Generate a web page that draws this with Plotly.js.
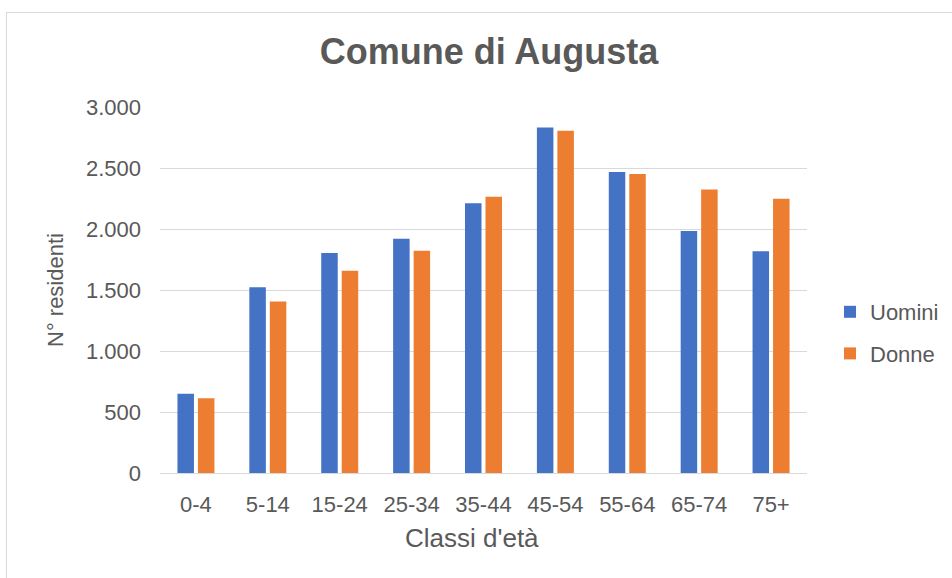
<!DOCTYPE html>
<html>
<head>
<meta charset="utf-8">
<script src="https://cdn.plot.ly/plotly-3.0.1.min.js"></script>
<style>
  html, body { margin: 0; padding: 0; background: #fff; }
  #chart { width: 952px; height: 578px; position: absolute; left: 0; top: 0; }
  #frame { position: absolute; left: 6px; top: 12px; width: 960px; height: 580px;
           border-left: 1px solid #d9d9d9; border-top: 1px solid #d9d9d9; pointer-events: none; }
</style>
</head>
<body>
<div id="chart"></div>
<div id="frame"></div>
<script>
const categories = ["0-4", "5-14", "15-24", "25-34", "35-44", "45-54", "55-64", "65-74", "75+"];
const uomini = [650, 1523, 1803, 1921, 2212, 2832, 2467, 1984, 1817];
const donne  = [612, 1405, 1657, 1822, 2264, 2805, 2451, 2324, 2248];
const yTicks = [0, 500, 1000, 1500, 2000, 2500, 3000];

const textColor = "#595959";
const font = "Liberation Sans, Arial, sans-serif";

const traces = [
  { type: "bar", name: "Uomini", x: categories, y: uomini, marker: { color: "#4472C4" }, legendgroup: "u", hoverinfo: "x+y" },
  { type: "bar", name: "Donne", x: categories, y: donne, marker: { color: "#ED7D31" }, legendgroup: "d", hoverinfo: "x+y" }
];

const layout = {
  width: 952, height: 578,
  margin: { l: 160, r: 145, t: 107, b: 105 },
  paper_bgcolor: "#ffffff", plot_bgcolor: "#ffffff",
  separators: ",.",
  font: { family: font, color: textColor, size: 22 },
  barmode: "group",
  bargap: 0.43,
  bargroupgap: 0.195,
  title: {
    text: "<b>Comune di Augusta</b>",
    font: { family: font, size: 36, color: textColor },
    xref: "container", x: 489 / 952, xanchor: "center",
    yref: "container", y: 1 - 51 / 578, yanchor: "middle"
  },
  xaxis: {
    type: "category",
    showgrid: false,
    showline: true, linecolor: "#d9d9d9", linewidth: 1,
    ticks: "",
    tickfont: { family: font, size: 22, color: textColor },
    ticklabelstandoff: 12
  },
  yaxis: {
    range: [0, 3000],
    tickvals: yTicks,
    tickformat: ",",
    showgrid: true, gridcolor: "#d9d9d9", gridwidth: 1,
    zeroline: false,
    showline: false,
    ticks: "",
    tickfont: { family: font, size: 22, color: textColor },
    ticklabelstandoff: 18,
    title: { text: "N° residenti", font: { family: font, size: 22, color: textColor }, standoff: 16 }
  },
  annotations: [{
    text: "Classi d'età",
    xref: "paper", yref: "paper",
    x: (472 - 160) / 647, y: -(538 - 473) / 366,
    xanchor: "center", yanchor: "middle",
    showarrow: false,
    font: { family: font, size: 26, color: textColor }
  }],
  legend: {
    xref: "container", yref: "container",
    x: 830 / 952, xanchor: "left",
    y: 1 - 333 / 578, yanchor: "middle",
    font: { family: font, size: 22, color: textColor },
    tracegroupgap: 10,
    bgcolor: "rgba(0,0,0,0)"
  },
  showlegend: true
};

Plotly.newPlot("chart", traces, layout, { displayModeBar: false, staticPlot: true });
</script>
</body>
</html>
